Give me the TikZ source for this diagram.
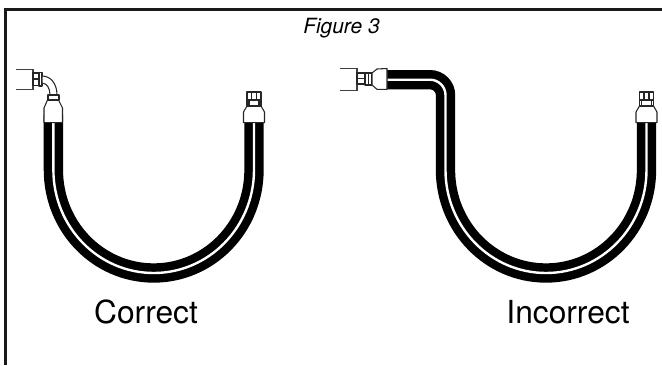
\documentclass[tikz,border=0pt]{standalone}
\usepackage{fontspec}
\setmainfont{TeX Gyre Heros}
\tikzset{
  hoseblack/.style={line width=14.5pt,draw=black},
  hosewhite/.style={line width=1.8pt,draw=white},
  frameline/.style={line width=2.4pt,draw=black!90},
  fit/.style={line width=0.8pt,draw=black!85,fill=white,line join=round},
  thin fit/.style={line width=0.8pt,draw=black!75},
  fatline/.style={line width=1.4pt,draw=black!85},
  bigtext/.style={font=\fontsize{23.8pt}{26pt}\selectfont,anchor=base,inner sep=0pt},
  captext/.style={font=\fontsize{15.7pt}{18pt}\selectfont\itshape,anchor=base,inner sep=0pt},
  straightfit/.pic={
    \path[fit] (-10.5,122.7) -- (-10.5,112) -- (-7,106) -- (7,106) -- (10.5,112) -- (10.5,122.7) -- cycle;
    \path[fit] (-7,92) rectangle (7,106);
    \draw[fatline] (-7,99.7) -- (7,99.7);
    \draw[fatline] (-2.5,92) -- (-2.5,99);
    \draw[fatline] (2.5,92) -- (2.5,99);
    \draw[fatline] (-5,100) -- (-5,106);
    \draw[fatline] (5,100) -- (5,106);
  }
}
\begin{document}
\begin{tikzpicture}[x=0.75pt,y=-0.75pt]
\useasboundingbox (0,0) rectangle (662,365);
\fill[white] (0,0) rectangle (662,365);
% frame
\draw[frameline] (5.5,365) -- (5.5,9.3) -- (662,9.3);
\node[captext] (cap) at (341.5,33) {Figure 3};
% left hose
\foreach \sty in {hoseblack,hosewhite}{
  \draw[\sty] (53.4,115) -- (53.4,170) .. controls (53.4,226.9) and (98.3,273) .. (153.7,273)
     .. controls (209.1,273) and (254,226.9) .. (254,170) -- (254,115);
}
% right hose
\foreach \sty in {hoseblack,hosewhite}{
  \draw[\sty] (380,79.7) -- (430,79.7) .. controls (438.6,79.7) and (445.5,86.7) .. (445.5,95) -- (445.5,170)
     .. controls (445.5,226.9) and (490.5,273) .. (546,273)
     .. controls (601.5,273) and (646.5,226.9) .. (646.5,170) -- (646.5,115);
}
% straight fittings
\pic at (254,0) {straightfit};
\pic at (646.5,0) {straightfit};
% left elbow fitting
\draw[thin fit] (16,69.5) -- (33,69.5) -- (33,89.5) -- (16,89.5);
\path[fit] (33,73) rectangle (39,85.5);
\draw[fatline] (33.5,79) -- (39,79);
\path[fit] (39,72.7) rectangle (42,86);
\path[fit] (42,76) .. controls (51,76) and (57,84) .. (57,95) -- (50,95) .. controls (50,88) and (47,83.5) .. (42,83) -- cycle;
\path[fit] (44,122.7) -- (44,108) -- (47.5,100) -- (58.5,100) -- (62.5,108) -- (62.5,122.7) -- cycle;
\path[fit] (48,95) rectangle (59,100);
% incorrect fitting
\draw[thin fit] (340,68.5) -- (357,68.5) -- (357,90.7) -- (340,90.7);
\path[fit] (357,73) rectangle (365,84);
\draw[fatline] (357,78.5) -- (365,78.5);
\path[fit] (365,73) rectangle (372,85);
\draw[fatline] (368.5,73) -- (368.5,85);
\path[fit] (372,73) -- (377,69) -- (387,68.5) -- (387,89.3) -- (377,89.3) -- (372,85) -- cycle;
% labels
\node[bigtext] (ok) at (146,323) {Correct};
\node[bigtext] (bad) at (568,323) {Incorrect};
\end{tikzpicture}
\end{document}
